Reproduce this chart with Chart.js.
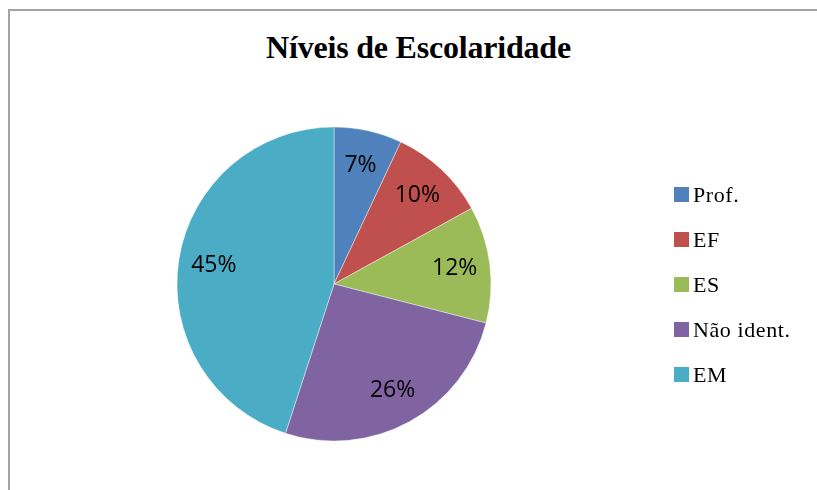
<!DOCTYPE html>
<html lang="pt">
<head>
<meta charset="UTF-8">
<title>Níveis de Escolaridade</title>
<script src="https://cdn.jsdelivr.net/npm/chart.js@4.4.1/dist/chart.umd.min.js"></script>
<style>
  html, body { margin: 0; padding: 0; background: #fff; }
  body { width: 817px; height: 490px; position: relative; overflow: hidden; }
  .frame {
    position: absolute; left: 8px; top: 9px; width: 830px; height: 500px;
    border: 2px solid #a3a3a3; box-sizing: border-box;
  }
  h1 {
    position: absolute; left: 0; width: 837px; top: 29px; margin: 0;
    text-align: center; font: bold 32px "Liberation Serif", "Times New Roman", serif;
    color: #000; letter-spacing: -0.2px;
  }
  #chart { position: absolute; left: 0; top: 0; }
  .legend {
    position: absolute; left: 674px; top: 172px; margin: 0; padding: 0; list-style: none;
    font: 22px "Liberation Serif", "Times New Roman", serif; letter-spacing: 0.6px; color: #000;
  }
  .legend li { height: 45px; display: flex; align-items: center; }
  .legend span.box { width: 15px; height: 15px; margin-right: 4px; display: inline-block; }
</style>
</head>
<body>
<div class="frame"></div>
<h1>Níveis de Escolaridade</h1>
<canvas id="chart" width="817" height="490"></canvas>
<ul class="legend" id="legend"></ul>

<script>
  const categorias = ['Prof.', 'EF', 'ES', 'Não ident.', 'EM'];
  const percentuais = [7, 10, 12, 26, 45];
  const cores = ['#4f81bd', '#c0504d', '#9bbb59', '#8064a2', '#4bacc6'];

  // percent labels inside each slice
  const rotulos = {
    id: 'rotulos',
    afterDatasetsDraw(chart) {
      const ctx = chart.ctx;
      const arcs = chart.getDatasetMeta(0).data;
      ctx.save();
      ctx.font = '23px "Open Sans", sans-serif';
      ctx.fillStyle = '#000';
      ctx.textAlign = 'center';
      ctx.textBaseline = 'middle';
      arcs.forEach((arc, i) => {
        const p = arc.getProps(['x', 'y', 'startAngle', 'endAngle', 'outerRadius'], true);
        const a = (p.startAngle + p.endAngle) / 2;
        const r = p.outerRadius * 0.775;
        ctx.fillText(percentuais[i] + '%', p.x + Math.cos(a) * r, p.y + Math.sin(a) * r);
      });
      ctx.restore();
    }
  };

  new Chart(document.getElementById('chart'), {
    type: 'pie',
    data: {
      labels: categorias,
      datasets: [{
        data: percentuais,
        backgroundColor: cores,
        borderColor: 'rgba(255,255,255,0.6)',
        borderWidth: 0.7
      }]
    },
    options: {
      responsive: false,
      animation: false,
      radius: 157,
      layout: { padding: { left: 170, right: 319, top: 122, bottom: 44 } },
      plugins: {
        legend: { display: false },
        tooltip: { enabled: false }
      }
    },
    plugins: [rotulos]
  });

  const legenda = document.getElementById('legend');
  categorias.forEach((c, i) => {
    const li = document.createElement('li');
    const box = document.createElement('span');
    box.className = 'box';
    box.style.background = cores[i];
    li.appendChild(box);
    li.appendChild(document.createTextNode(c));
    legenda.appendChild(li);
  });
</script>
</body>
</html>
